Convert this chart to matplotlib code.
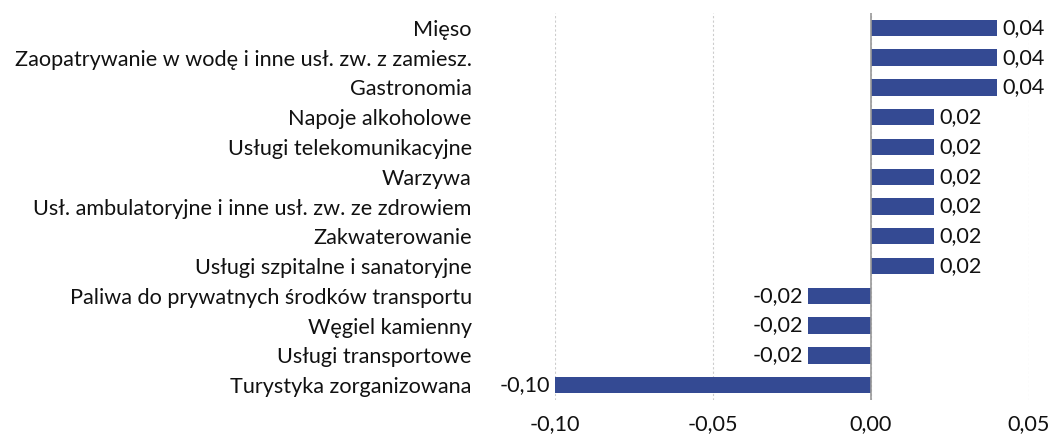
import matplotlib
matplotlib.use("Agg")
import matplotlib.pyplot as plt

categories = [
    "Mięso",
    "Zaopatrywanie w wodę i inne usł. zw. z zamiesz.",
    "Gastronomia",
    "Napoje alkoholowe",
    "Usługi telekomunikacyjne",
    "Warzywa",
    "Usł. ambulatoryjne i inne usł. zw. ze zdrowiem",
    "Zakwaterowanie",
    "Usługi szpitalne i sanatoryjne",
    "Paliwa do prywatnych środków transportu",
    "Węgiel kamienny",
    "Usługi transportowe",
    "Turystyka zorganizowana",
]
values = [0.04, 0.04, 0.04, 0.02, 0.02, 0.02, 0.02, 0.02, 0.02, -0.02, -0.02, -0.02, -0.10]
xticks = [-0.10, -0.05, 0.00, 0.05]

plt.rcParams['font.family'] = ['Lato', 'DejaVu Sans']
FS = 15.6

fig = plt.figure(figsize=(10.51, 4.36), dpi=100)
ax = fig.add_axes([555/1051, 1-400/436, (1029-555)/1051, (400-13)/436])

fmt = lambda v: f"{v:.2f}".replace(".", ",")
ypos = list(range(len(categories)))
ax.barh(ypos, values, height=0.55, color="#344A93", zorder=3)
ax.set_ylim(len(categories)-0.5, -0.5)
ax.set_xlim(-0.10, 0.05)
for y, v in zip(ypos, values):
    if v >= 0:
        ax.text(v + 0.0015, y, fmt(v), va="center", ha="left", fontsize=FS, color="#111111")
    else:
        ax.text(v - 0.0015, y, fmt(v), va="center", ha="right", fontsize=FS, color="#111111")

ax.set_yticks(ypos)
ax.set_yticklabels(categories, fontsize=FS, color="#111111")
ax.set_xticks(xticks)
ax.set_xticklabels([fmt(t) for t in xticks], fontsize=FS, color="#111111")
ax.tick_params(axis="both", length=0)
ax.tick_params(axis="y", pad=60)
ax.tick_params(axis="x", pad=10)
for s in ax.spines.values():
    s.set_visible(False)
ax.xaxis.grid(True, color="#cccccc", linestyle=(0, (2, 2)), linewidth=0.8, zorder=0)
ax.axvline(0, color="#999999", linewidth=1.2, zorder=4)

fig.savefig("out.png", dpi=100)
